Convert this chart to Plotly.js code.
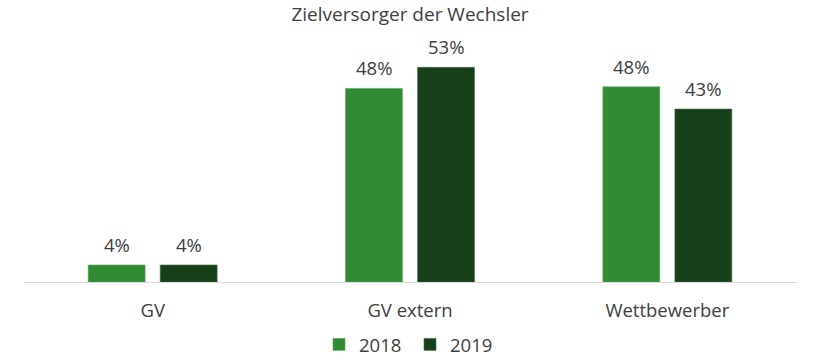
<!DOCTYPE html>
<html><head><meta charset="utf-8">
<script src="https://cdn.plot.ly/plotly-3.0.1.min.js"></script>
<style>html,body{margin:0;padding:0;background:#fff}</style>
</head><body>
<div id="chart" style="width:820px;height:360px"></div>
<script>
const categories = ["GV", "GV extern", "Wettbewerber"];
const values2018 = [4.2, 47.8, 48.2];
const values2019 = [4.2, 53.0, 42.7];
const seriesNames = ["2018", "2019"];

const FONT = "'Open Sans', Lato, sans-serif";
const TXT = "#404040";
const colors = ["#318B35", "#173F1A"];
const borders = ["#5aa55d", "#4a6a4c"];
const series = [values2018, values2019];

const traces = series.map((vals, s) => ({
  type:"bar", name:seriesNames[s], x:categories, y:vals,
  marker:{color:colors[s], line:{color:borders[s], width:0.6}},
  hoverinfo:"none"
}));

// value labels placed via data coordinates, shifted to each bar of the group
const annotations = [];
series.forEach((vals, s) => {
  vals.forEach((v, i) => {
    annotations.push({
      x:categories[i], y:v, xref:"x", yref:"y",
      xshift:(s === 0 ? -36 : 36), yshift:6,
      yanchor:"bottom", xanchor:"center", showarrow:false,
      text:Math.round(v) + "%",
      font:{family:FONT, size:18.5, color:TXT}
    });
  });
});

const layout = {
  width:820, height:360,
  margin:{l:24, r:24, t:39, b:78, autoexpand:false},
  paper_bgcolor:"#fff", plot_bgcolor:"#fff",
  font:{family:FONT, color:TXT, size:16},
  title:{text:"Zielversorger der Wechsler", x:0.5, xanchor:"center", y:0.96, yanchor:"middle",
         yref:"container", font:{family:FONT, size:19, color:TXT}},
  barmode:"group", bargap:0.44, bargroupgap:0.21,
  xaxis:{showline:true, linecolor:"#d9d9d9", linewidth:1, showgrid:false, ticks:"",
         ticklabelstandoff:12,
         tickfont:{family:FONT, size:18.5, color:TXT}, fixedrange:true},
  yaxis:{range:[0,60], autorange:false, visible:false, showgrid:false, zeroline:false},
  annotations:annotations,
  showlegend:true,
  legend:{orientation:"h", x:0.5, xanchor:"center", xref:"container",
          y:0.042, yanchor:"middle", yref:"container",
          font:{family:FONT, size:18.5, color:TXT}, traceorder:"normal",
          itemwidth:30, entrywidth:46, entrywidthmode:"pixels"}
};

Plotly.newPlot("chart", traces, layout, {displayModeBar:false, staticPlot:true});
</script>
</body></html>
